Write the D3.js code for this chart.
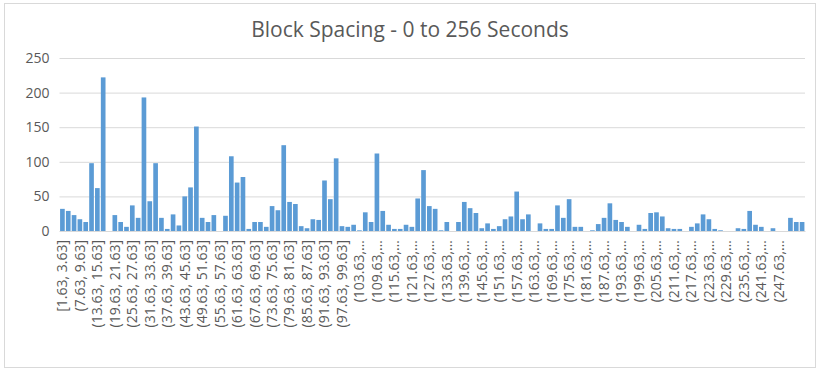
<!DOCTYPE html>
<html>
<head>
<meta charset="utf-8">
<script src="https://cdn.jsdelivr.net/npm/d3@7"></script>
<style>
  body { margin: 0; background: #fff; }
  #chart { width: 821px; height: 372px; }
  text { font-family: "Open Sans", sans-serif; fill: #595959; }
</style>
</head>
<body>
<div id="chart"></div>
<script>
// bin starts (each bin is 2 seconds wide)
const binStarts = d3.range(128).map((i) => 1.63 + 2 * i);

// counts per bin
const counts = [
  32, 29, 23, 17, 13, 98, 62, 222, 0, 23, 13, 6, 37, 19, 193, 43,
  98, 19, 3, 24, 8, 50, 63, 151, 19, 13, 23, 0, 22, 108, 70, 78,
  3, 13, 13, 6, 36, 30, 124, 42, 39, 7, 4, 17, 16, 73, 46, 105,
  7, 6, 9, 1, 27, 13, 112, 29, 9, 3, 3, 9, 6, 47, 88, 36,
  32, 1, 13, 0, 13, 42, 33, 26, 4, 11, 3, 7, 17, 21, 57, 17,
  24, 0, 11, 3, 3, 37, 19, 46, 6, 6, 0, 1, 10, 19, 40, 16,
  13, 6, 0, 9, 3, 26, 27, 21, 4, 3, 3, 0, 6, 11, 24, 17,
  3, 1, 0, 0, 4, 3, 29, 9, 6, 0, 4, 0, 0, 19, 13, 13
];

// every third bin gets a label
const tickLabels = [
  "[1.63, 3.63]", "(7.63, 9.63]", "(13.63, 15.63]", "(19.63, 21.63]",
  "(25.63, 27.63]", "(31.63, 33.63]", "(37.63, 39.63]", "(43.63, 45.63]",
  "(49.63, 51.63]", "(55.63, 57.63]", "(61.63, 63.63]", "(67.63, 69.63]",
  "(73.63, 75.63]", "(79.63, 81.63]", "(85.63, 87.63]", "(91.63, 93.63]",
  "(97.63, 99.63]", "(103.63,…", "(109.63,…", "(115.63,…", "(121.63,…",
  "(127.63,…", "(133.63,…", "(139.63,…", "(145.63,…", "(151.63,…",
  "(157.63,…", "(163.63,…", "(169.63,…", "(175.63,…", "(181.63,…",
  "(187.63,…", "(193.63,…", "(199.63,…", "(205.63,…", "(211.63,…",
  "(217.63,…", "(223.63,…", "(229.63,…", "(235.63,…", "(241.63,…",
  "(247.63,…"
];

const yTicks = [0, 50, 100, 150, 200, 250];

const width = 821;
const height = 372;
const marginLeft = 59.5;
const marginRight = 16;
const marginTop = 58;
const chartBottom = 231;

const svg = d3.select("#chart").append("svg")
  .attr("width", width)
  .attr("height", height);

// outer chart frame
svg.append("rect")
  .attr("x", 4.5).attr("y", 3.5)
  .attr("width", 811).attr("height", 364)
  .attr("fill", "#fff")
  .attr("stroke", "#d9d9d9");

// title
svg.append("text")
  .attr("x", 410)
  .attr("y", 37)
  .attr("text-anchor", "middle")
  .style("font-size", "21px")
  .text("Block Spacing - 0 to 256 Seconds");

const xScale = d3.scaleBand()
  .domain(binStarts)
  .range([marginLeft, width - marginRight])
  .paddingInner(0.2)
  .paddingOuter(0.1);

const yScale = d3.scaleLinear()
  .domain([0, 250])
  .range([chartBottom, marginTop]);

// gridlines + y labels
const yAxis = svg.append("g")
  .attr("transform", `translate(${marginLeft},0)`)
  .call(d3.axisLeft(yScale).tickValues(yTicks)
    .tickSize(-(width - marginRight - marginLeft))
    .tickPadding(10));
yAxis.select(".domain").remove();
yAxis.selectAll("line").attr("stroke", "#d9d9d9");
yAxis.selectAll("text").style("font-size", "14px").attr("fill", "#595959");

// bars
svg.append("g")
  .selectAll("rect")
  .data(counts)
  .join("rect")
  .attr("x", (d, i) => xScale(binStarts[i]))
  .attr("y", (d) => yScale(d))
  .attr("width", xScale.bandwidth())
  .attr("height", (d) => chartBottom - yScale(d))
  .attr("fill", "#5b9bd5");

// x axis with every third bin labelled
const labelled = binStarts.filter((d, i) => i % 3 === 0);
const xAxis = svg.append("g")
  .attr("transform", `translate(0,${chartBottom})`)
  .call(d3.axisBottom(xScale).tickValues(labelled)
    .tickSize(0)
    .tickFormat((d, i) => tickLabels[i]));
xAxis.select(".domain").attr("stroke", "#d9d9d9");
xAxis.selectAll("text")
  .style("font-size", "14px")
  .attr("fill", "#595959")
  .attr("text-anchor", "end")
  .attr("transform", "rotate(-90)")
  .attr("x", -9)
  .attr("y", 0)
  .attr("dy", "0.35em");
</script>
</body>
</html>
